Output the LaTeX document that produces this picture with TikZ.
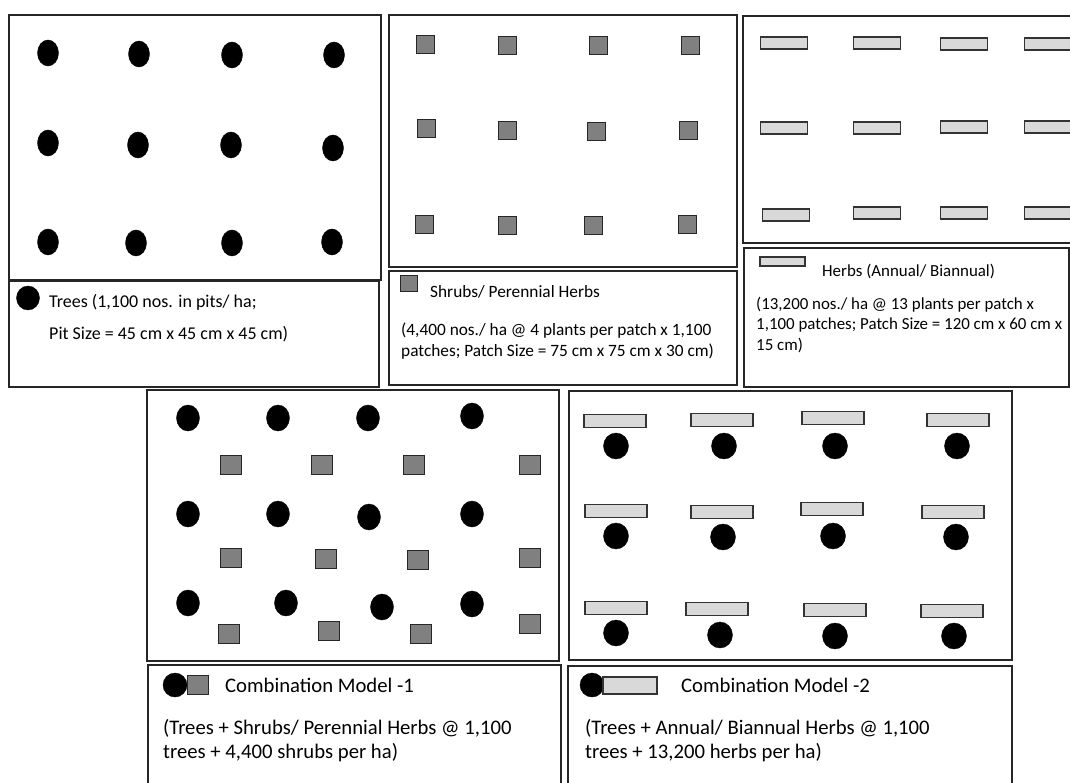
\documentclass[tikz,border=0pt]{standalone}
\usepackage{fontspec}
\setmainfont{Carlito}

\begin{document}
\begin{tikzpicture}[x=1pt, y=-1pt,
  panel/.style={draw=black!85, line width=1.1pt},
  tree/.style={fill=black, draw=black},
  shrub/.style={fill=black!50, draw=black!85, line width=1pt},
  herb/.style={fill=black!15, draw=black!80, line width=1.1pt},
  txt/.style={anchor=base west, inner sep=0pt, font=\fontsize{18}{19.5}\selectfont},
  smalltxt/.style={txt, font=\fontsize{17.3}{19.5}\selectfont},
  herbtxt/.style={txt, font=\fontsize{16.9}{19.5}\selectfont},
  bigtxt/.style={anchor=base west, inner sep=0pt, font=\fontsize{20.7}{24}\selectfont}]

  \useasboundingbox (0,0) rectangle (1070,783);

  % Trees
  \draw[panel] (9,15) rectangle (381,280);
  \foreach \x/\y in {48/53, 139/54, 232/55, 334/55, 48/143, 138/145, 231/145, 333/148, 48/242, 136/243, 232/243, 332/242}
    \filldraw[tree] (\x,\y) ellipse (10.5pt and 13pt);

  % Trees legend
  \draw[panel] (9,281) rectangle (379,387);
  \filldraw[tree] (28,298) ellipse (11.5pt and 12pt);
  \node[txt] (trees1) at (49,308) {Trees (1,100 nos. in pits/ ha;};
  \node[txt] (trees2) at (49,339) {Pit Size = 45 cm x 45 cm x 45 cm)};

  % Shrubs
  \draw[panel] (389,15) rectangle (737,267);
  \foreach \x/\y in {425/45, 507/46, 598/46, 690/46, 426/129, 507/131, 596/132, 688/131, 424/225, 507/226, 593/226, 687/225}
    \filldraw[shrub] (\x-9,\y-9) rectangle (\x+9,\y+9);

  % Shrubs legend
  \draw[panel] (389,271) rectangle (737,385);
  \filldraw[shrub] (400,276) rectangle (417,292);
  \node[smalltxt] (shrubs1) at (430,298) {Shrubs/ Perennial Herbs};
  \node[smalltxt] (shrubs2) at (401,335) {(4,400 nos./ ha @ 4 plants per patch x 1,100};
  \node[smalltxt] (shrubs3) at (401,356) {patches; Patch Size = 75 cm x 75 cm x 30 cm)};

  % Herbs (right side runs off the page)
  \draw[panel] (1072,16) -- (743,16) -- (743,243) -- (1072,243);
  \foreach \x/\y in {784/43, 877/43, 964/44, 1048/44, 784/128, 877/128, 964/127, 1048/127, 786/215, 877/213, 964/213, 1048/213}
    \filldraw[herb] (\x-23.5,\y-6) rectangle (\x+23.5,\y+6);

  % Herbs legend
  \draw[panel] (744,248) rectangle (1069,387);
  \filldraw[herb] (760,257) rectangle (805,266);
  \node[herbtxt] (herbs1) at (822,277) {Herbs (Annual/ Biannual)};
  \node[herbtxt] (herbs2) at (756,310) {(13,200 nos./ ha @ 13 plants per patch x};
  \node[herbtxt] (herbs3) at (756,330) {1,100 patches; Patch Size = 120 cm x 60 cm x};
  \node[herbtxt] (herbs4) at (756,350) {15 cm)};

  % Combination model 1: trees + shrubs
  \draw[panel] (147,390) rectangle (559,661);
  \foreach \x/\y in {188/418, 278/418, 368/418, 472/416, 188/514, 278/514, 369/517, 472/514, 188/603, 286/603, 382/607, 472/604}
    \filldraw[tree] (\x,\y) ellipse (11.5pt and 13pt);
  \foreach \x/\y in {231/465, 322/465, 414/465, 530/465, 231/558, 326/559, 418/560, 530/558, 229/634, 329/631, 421/634, 530/624}
    \filldraw[shrub] (\x-10.5,\y-9.5) rectangle (\x+10.5,\y+9.5);

  % Combination model 1 legend
  \draw[panel] (148,790) -- (148,665) -- (561,665) -- (561,790);
  \filldraw[tree] (175,685) ellipse (12pt and 12pt);
  \filldraw[shrub] (187,675) rectangle (208,694);
  \node[bigtxt] (combo1) at (225,692) {Combination Model -1};
  \node[bigtxt] (combo1a) at (163,734) {(Trees + Shrubs/ Perennial Herbs @ 1,100};
  \node[bigtxt] (combo1b) at (163,758) {trees + 4,400 shrubs per ha)};

  % Combination model 2: trees + herbs
  \draw[panel] (569,391) rectangle (1012,660);
  \foreach \x/\y in {615/421, 722/420, 833/418, 958/420, 616/511, 722/512, 832/509, 953/512, 616/608, 717/609, 835/610, 952/611}
    \filldraw[herb] (\x-31,\y-6.5) rectangle (\x+31,\y+6.5);
  \foreach \x/\y in {616/446, 724/446, 835/446, 957/446, 616/536, 723/537, 833/536, 956/537, 616/633, 720/635, 835/636, 954/636}
    \filldraw[tree] (\x,\y) ellipse (12.5pt and 13pt);

  % Combination model 2 legend
  \draw[panel] (568,790) -- (568,666) -- (1012,666) -- (1012,790);
  \filldraw[tree] (592,685) ellipse (12pt and 12pt);
  \filldraw[herb] (603,677) rectangle (657,694);
  \node[bigtxt] (combo2) at (681,692) {Combination Model -2};
  \node[bigtxt] (combo2a) at (585,734) {(Trees + Annual/ Biannual Herbs @ 1,100};
  \node[bigtxt] (combo2b) at (585,758) {trees + 13,200 herbs per ha)};

\end{tikzpicture}
\end{document}
